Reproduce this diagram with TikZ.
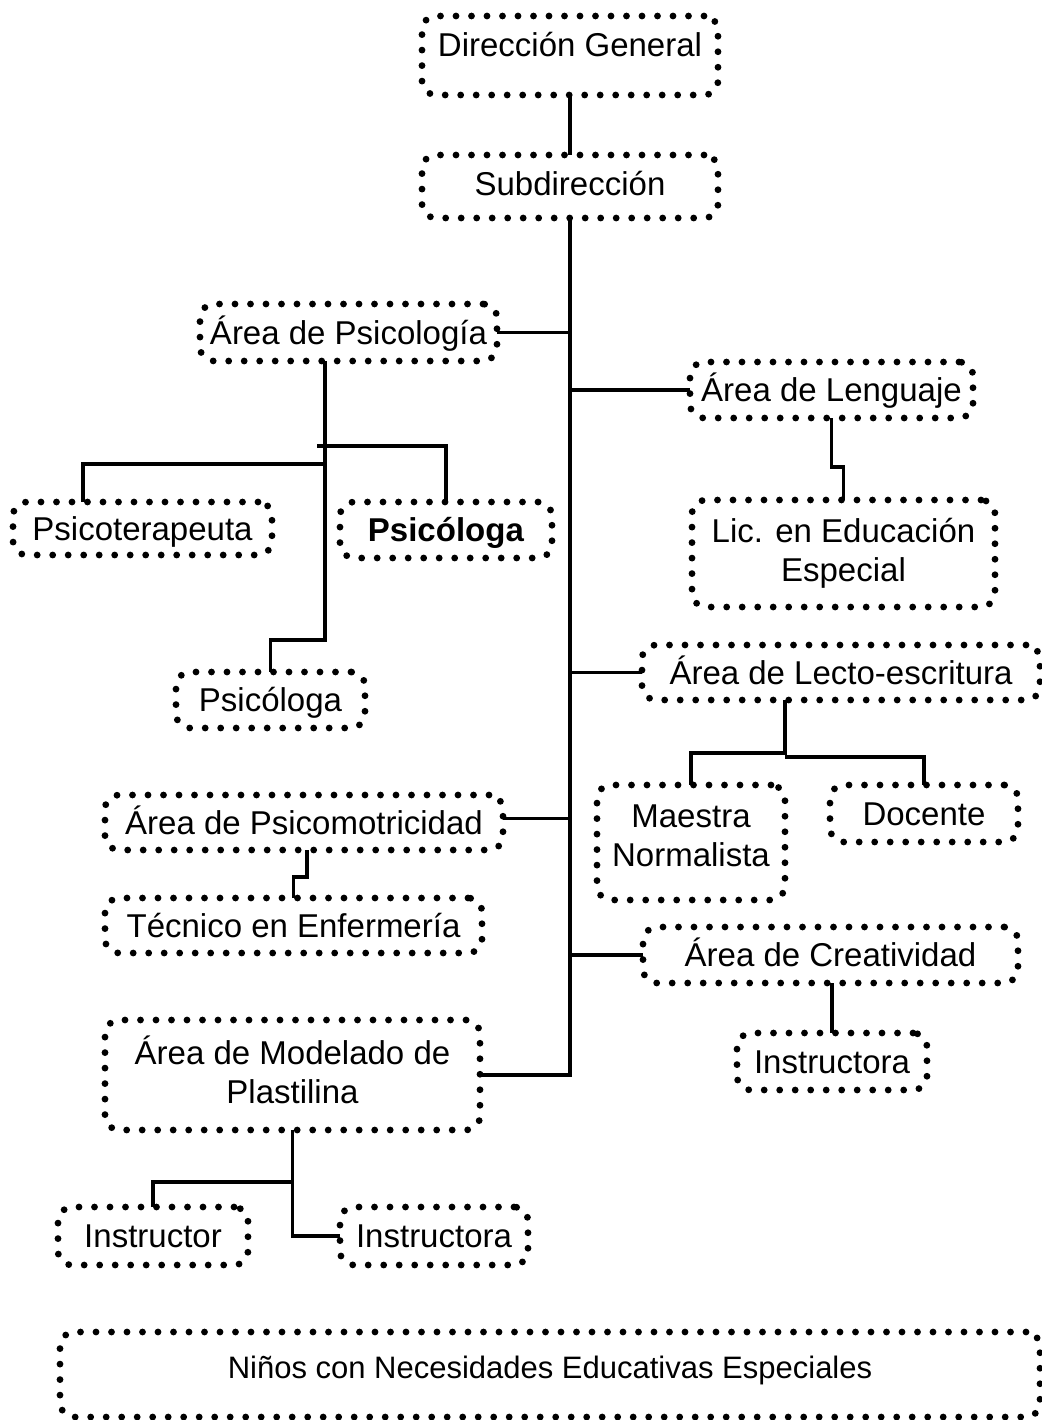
\documentclass[tikz,border=0pt]{standalone}
\usepackage{fontspec}
\setmainfont{Liberation Sans}

\begin{document}
\begin{tikzpicture}[
                    x=0.5pt, y=-0.5pt,
                    caja/.style={draw, line width=3.4pt, line cap=round,
                        dash pattern=on 0pt off 7.75pt, rounded corners=7pt,
                        inner sep=0pt, outer sep=0pt, align=center,
                        font=\fontsize{16.5pt}{19.5pt}\selectfont,
                        text height=11.8pt, text depth=0pt},
                    linea/.style={line width=1.6pt},
                ]
                \useasboundingbox (0,0) rectangle (1042,1420);

                \node[caja, minimum width=148pt, minimum height=39.5pt, text depth=11pt] (dg) at (570,55.5) {Dirección General};
                \node[caja, minimum width=148pt, minimum height=31.5pt, text depth=2.5pt] (sub) at (570,186.5) {Subdirección};

                \node[caja, minimum width=148.5pt, minimum height=28.5pt] (psi) at (348.5,332.5) {Área de Psicología};
                \node[caja, minimum width=129.5pt, minimum height=26.5pt] (pter) at (142.5,528.5) {Psicoterapeuta};
                \node[caja, minimum width=106pt, minimum height=28pt] (psib) at (446,530) {\textbf{Psicóloga}};
                \node[caja, minimum width=94.5pt, minimum height=28pt] (psil) at (270.5,700) {Psicóloga};

                \node[caja, minimum width=141.5pt, minimum height=28pt] (len) at (831.5,390) {Área de Lenguaje};
                \node[caja, minimum width=151.5pt, minimum height=53.5pt, text height=28.3pt] (lic) at (843.5,553.5) {Lic. en Educación\\Especial};

                \node[caja, minimum width=199pt, minimum height=27.5pt] (lec) at (841,672.5) {Área de Lecto-escritura};
                \node[caja, minimum width=94pt, minimum height=57.5pt, text height=23.8pt] (mae) at (691,842.5) {Maestra\\Normalista};
                \node[caja, minimum width=94pt, minimum height=28.5pt] (doc) at (924,813.5) {Docente};

                \node[caja, minimum width=187.5pt, minimum height=28pt] (cre) at (830.5,955) {Área de Creatividad};
                \node[caja, minimum width=95pt, minimum height=28.5pt] (insc) at (832,1061.5) {Instructora};

                \node[caja, minimum width=199pt, minimum height=27.5pt] (mot) at (304,822.5) {Área de Psicomotricidad};
                \node[caja, minimum width=188.5pt, minimum height=27.5pt] (tec) at (293.5,925.5) {Técnico en Enfermería};

                \node[caja, minimum width=187.5pt, minimum height=55pt, text height=28.3pt] (mod) at (292.5,1075) {Área de Modelado de\\Plastilina};
                \node[caja, minimum width=95pt, minimum height=29pt] (ins) at (153,1236) {Instructor};
                \node[caja, minimum width=94pt, minimum height=29pt] (insm) at (434,1236) {Instructora};

                \node[caja, minimum width=490pt, minimum height=42.5pt,
                      font=\fontsize{15.5pt}{18pt}\selectfont, text height=11.1pt, text depth=7pt] (nin) at (550,1374.5) {Niños con Necesidades Educativas Especiales};

                \coordinate (j1) at (325,464);
                \coordinate (j2) at (317,446);
                \coordinate (j3) at (325,640);
                \coordinate (k1) at (785,753);
                \coordinate (k2) at (785,757);

                \draw[linea] (dg) -- (sub);
                \draw[linea] (sub.south) -- (sub.south |- mod.east) -- (mod.east);
                \draw[linea] (psi.east) -- (psi.east -| sub.south);
                \draw[linea] (len.west) -- (len.west -| sub.south);
                \draw[linea] (lec.west) -- (lec.west -| sub.south);
                \draw[linea] ([yshift=2pt]mot.east) -- ([yshift=2pt]mot.east -| sub.south);
                \draw[linea] (cre.west) -- (cre.west -| sub.south);

                \draw[linea] (psi.south -| j1) -- (j3) -| (psil.north);
                \draw[linea] (j1) -| ([xshift=-29.75pt]pter.north);
                \draw[linea] (j2) -| (psib.north);

                \draw[linea] (len.south) -- ++(0,49) -| (lic.north);
                \draw[linea] (lec.south -| k1) -- (k1) -| (mae.north);
                \draw[linea] (k2) -| (doc.north);
                \draw[linea] (cre.south -| insc.north) -- (insc.north);

                \draw[linea] ([xshift=1.5pt]mot.south) -- ++(0,27) -| (tec.north);
                \draw[linea] (mod.south) -- ++(0,52) coordinate (m1) -| (ins.north);
                \draw[linea] (m1) |- (insm.west);
            \end{tikzpicture}
\end{document}
